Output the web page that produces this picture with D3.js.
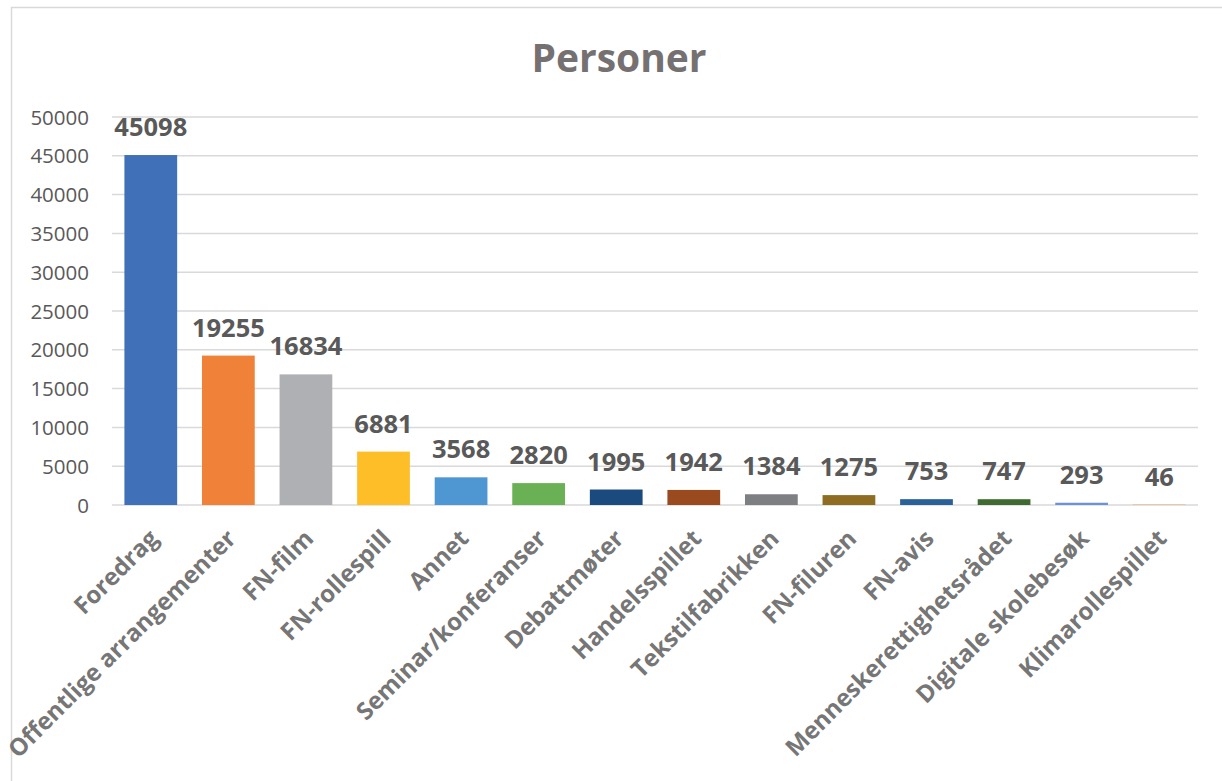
<!DOCTYPE html>
<html><head><meta charset="utf-8">
<script src="https://cdn.jsdelivr.net/npm/d3@7"></script>
<style>body{margin:0;background:#fff}svg{display:block}</style>
</head><body>
<svg id="chart" width="1222" height="781"></svg>
<script>
const categories = ["Foredrag","Offentlige arrangementer","FN-film","FN-rollespill","Annet","Seminar/konferanser","Debattmøter","Handelsspillet","Tekstilfabrikken","FN-filuren","FN-avis","Menneskerettighetsrådet","Digitale skolebesøk","Klimarollespillet"];
const values = [45098,19255,16834,6881,3568,2820,1995,1942,1384,1275,753,747,293,46];
const colors = ["#3F70B8","#F08138","#AFB0B4","#FDBE28","#4F97D2","#6AB055","#1A4A7E","#9A4A1F","#7E7F83","#8E6C21","#2A6199","#3F6A30","#6E92D3","#F1975A"];
const yTicks = [0,5000,10000,15000,20000,25000,30000,35000,40000,45000,50000];
const title = "Personer";

const svg = d3.select("#chart");
const font = "'Open Sans', 'DejaVu Sans', sans-serif";

// chart frame
svg.append("path").attr("d","M11.5,781 L11.5,7.5 L1222,7.5").attr("fill","none").attr("stroke","#d9d9d9").attr("stroke-width",1.5);

const x = d3.scaleBand().domain(categories).range([112,1198]).paddingInner(0.32).paddingOuter(0.16);
const y = d3.scaleLinear().domain([0,50000]).range([505,117]);

svg.append("text").attr("x",619).attr("y",72).attr("text-anchor","middle")
  .attr("font-family",font).attr("font-weight","bold").attr("font-size",39).attr("fill","#757171").text(title);

// grid
const grid = svg.append("g");
grid.selectAll("line").data(yTicks).join("line")
  .attr("x1",112).attr("x2",1198).attr("y1",d=>y(d)).attr("y2",d=>y(d))
  .attr("stroke","#d9d9d9").attr("stroke-width",1.5);

// y axis
const yAxis = d3.axisLeft(y).tickValues(yTicks).tickSize(0).tickPadding(0).tickFormat(d3.format("d"));
const ya = svg.append("g").attr("transform","translate(89,0)").call(yAxis);
ya.select(".domain").remove();
ya.selectAll("text").attr("font-family",font).attr("font-size",20.5).attr("fill","#595959").attr("dy","0.35em");

// bars
svg.selectAll("rect.bar").data(values).join("rect").attr("class","bar")
  .attr("x",(d,i)=>x(categories[i])).attr("width",x.bandwidth())
  .attr("y",d=>y(d)).attr("height",d=>y(0)-y(d)).attr("fill",(d,i)=>colors[i]);

// data labels
svg.selectAll("text.lbl").data(values).join("text").attr("class","lbl")
  .attr("x",(d,i)=>x(categories[i])+x.bandwidth()/2).attr("y",d=>y(d)-19)
  .attr("text-anchor","middle").attr("font-family",font).attr("font-weight","bold")
  .attr("font-size",25.5).attr("fill","#595959").text(d=>d);

// x axis labels
const xAxis = d3.axisBottom(x).tickSize(0).tickPadding(0);
const xa = svg.append("g").attr("transform","translate(0,505)").call(xAxis);
xa.select(".domain").remove();
xa.selectAll("text").attr("font-family",font).attr("font-weight","bold").attr("font-size",24).attr("fill","#767676")
  .attr("text-anchor","end").attr("dy",null).attr("y",0)
  .attr("transform","translate(9,35) rotate(-45)");
</script>
</body></html>
